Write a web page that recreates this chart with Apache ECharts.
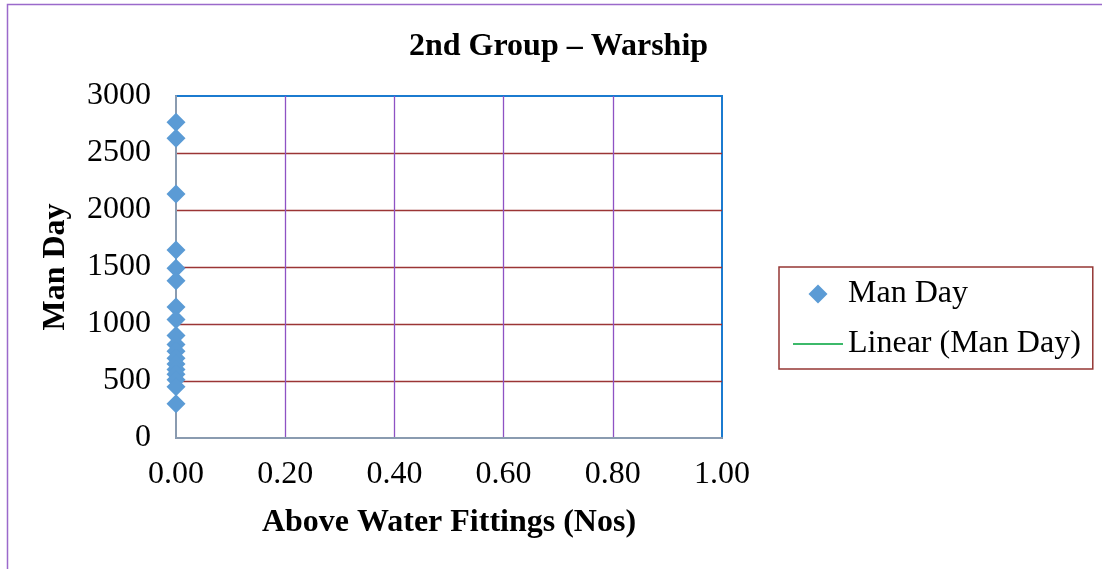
<!DOCTYPE html>
<html>
<head>
<meta charset="utf-8">
<script src="https://cdn.jsdelivr.net/npm/echarts@6/dist/echarts.min.js"></script>
<style>
  html, body { margin: 0; padding: 0; background: #fff; }
  #scatter_chart { width: 1102px; height: 569px; }
</style>
</head>
<body>
<div id="scatter_chart"></div>
<script>
// values
var fittings = [0, 0, 0, 0, 0, 0, 0, 0, 0, 0, 0, 0, 0, 0, 0, 0, 0, 0];
var manDays = [2770, 2630, 2140, 1650, 1490, 1380, 1150, 1040, 900, 820, 760, 700, 650, 600, 560, 510, 450, 300];
var xTicks = [0, 0.2, 0.4, 0.6, 0.8, 1.0];
var yTicks = [0, 500, 1000, 1500, 2000, 2500, 3000];

var serif = "'Liberation Serif', 'Times New Roman', serif";

// diamond centred in a 50 x 19 box so the legend icon is not stretched
var legendDiamond = "path://M0,9.5L0,9.5M50,9.5L50,9.5M25,0L34.5,9.5L25,19L15.5,9.5Z";

function scatter_chart(dom) {
  var chart = echarts.init(document.getElementById(dom));

  var points = fittings.map(function (x, i) {
    return [x, manDays[i]];
  });

  var option = {
    animation: false,
    title: {
      text: "2nd Group \u2013 Warship",
      left: 404,
      top: 26,
      textStyle: {
        fontFamily: serif,
        fontWeight: "bold",
        fontSize: 32,
        color: "#000"
      }
    },
    legend: {
      orient: "vertical",
      left: 779,
      top: 267,
      padding: [11, 12, 9, 13],
      itemGap: 18,
      itemWidth: 50,
      itemHeight: 19,
      itemTextGap: 6,
      borderColor: "#953735",
      borderWidth: 1.5,
      textStyle: {
        fontFamily: serif,
        fontSize: 32,
        color: "#000"
      },
      data: [
        { name: "Man Day", icon: legendDiamond },
        { name: "Linear (Man Day)", itemStyle: { opacity: 0 } }
      ]
    },
    grid: {
      left: 176,
      top: 96,
      right: 380,
      bottom: 131,
      show: true,
      borderColor: "#1b7bd0",
      borderWidth: 2
    },
    xAxis: {
      type: "value",
      min: xTicks[0],
      max: xTicks[xTicks.length - 1],
      interval: 0.2,
      name: "Above Water Fittings (Nos)",
      nameLocation: "middle",
      nameGap: 69,
      nameTextStyle: {
        fontFamily: serif,
        fontWeight: "bold",
        fontSize: 32,
        color: "#000"
      },
      axisLine: { show: true, lineStyle: { color: "#8a9bb0", width: 2 } },
      axisTick: { show: false },
      axisLabel: {
        margin: 21,
        fontFamily: serif,
        fontSize: 32,
        color: "#000",
        formatter: function (v) { return v.toFixed(2); }
      },
      splitLine: {
        show: true,
        showMinLine: false,
        showMaxLine: false,
        lineStyle: { color: "#8e52c4", width: 1.3 }
      }
    },
    yAxis: {
      type: "value",
      min: yTicks[0],
      max: yTicks[yTicks.length - 1],
      interval: 500,
      name: "Man Day",
      nameLocation: "middle",
      nameGap: 104,
      nameTextStyle: {
        fontFamily: serif,
        fontWeight: "bold",
        fontSize: 32,
        color: "#000"
      },
      axisLine: { show: true, lineStyle: { color: "#8a9bb0", width: 2 } },
      axisTick: { show: false },
      axisLabel: {
        margin: 25,
        fontFamily: serif,
        fontSize: 32,
        color: "#000",
        formatter: function (v) { return String(v); }
      },
      splitLine: {
        show: true,
        showMinLine: false,
        showMaxLine: false,
        lineStyle: { color: "#9b3535", width: 1.3 }
      }
    },
    graphic: [
      {
        type: "rect",
        silent: true,
        z: -1,
        shape: { x: 7.5, y: 4.5, width: 1200, height: 700 },
        style: { fill: "none", stroke: "#9b6acb", lineWidth: 1.5 }
      }
    ],
    series: [
      {
        type: "scatter",
        name: "Man Day",
        symbol: "diamond",
        symbolSize: 19,
        itemStyle: { color: "#5b9bd5", opacity: 1 },
        data: points,
        z: 5
      },
      {
        // trendline cannot be fitted when every x is 0; kept for the legend
        type: "line",
        name: "Linear (Man Day)",
        symbol: "none",
        lineStyle: { color: "#3cb96a", width: 1.5 },
        itemStyle: { color: "#3cb96a" },
        data: []
      }
    ]
  };

  chart.setOption(option);
}

scatter_chart("scatter_chart");
</script>
</body>
</html>
